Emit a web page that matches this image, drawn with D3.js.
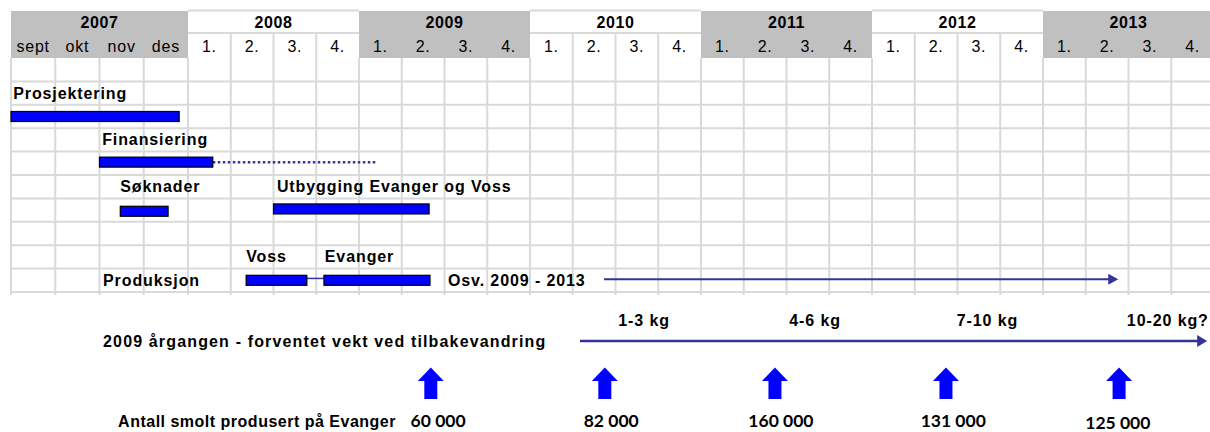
<!DOCTYPE html>
<html>
<head>
<meta charset="utf-8">
<script src="https://cdn.jsdelivr.net/npm/d3@7"></script>
<style>
  body { margin: 0; background: #fff; }
  svg { display: block; }
  text { font-family: "Liberation Sans", Arial, sans-serif; fill: #000; }
</style>
</head>
<body>
<div id="chart"></div>
<script>
// header
var years = ["2007", "2008", "2009", "2010", "2011", "2012", "2013"];
var months = ["sept", "okt", "nov", "des"];
var quarters = ["1.", "2.", "3.", "4."];

// task labels: [text, row, column position]
var taskLabels = [
  ["Prosjektering", 1, 0.05],
  ["Finansiering", 3, 2.06],
  ["Søknader", 5, 2.47],
  ["Utbygging Evanger og Voss", 5, 6.08],
  ["Voss", 8, 5.36],
  ["Evanger", 8, 7.2],
  ["Produksjon", 9, 2.08],
  ["Osv. 2009 - 2013", 9, 10.08]
];

// bars: [name, row centre, start column, end column]
var bars = [
  ["Prosjektering", 2.5, 0, 3.8],
  ["Finansiering", 4.45, 2.0, 4.58],
  ["Søknader", 6.55, 2.47, 3.55],
  ["Utbygging", 6.45, 6.0, 9.64],
  ["Voss", 9.5, 5.36, 6.78],
  ["Evanger", 9.5, 7.18, 9.66]
];
var finansieringDotted = [4.58, 8.42];
var vossEvangerLink = [6.67, 7.39];
var osvArrow = [13.73, 25.76];

// weight of the 2009 year class
var weightArrow = [13.17, 27.84];
var weightLabels = ["1-3 kg", "4-6 kg", "7-10 kg", "10-20 kg?"];
var weightPos = [14.67, 18.67, 22.7, 26.92];

// smolt produced at Evanger
var smoltArrowPos = [9.68, 13.75, 17.73, 21.73, 25.78];
var smoltCounts = ["60 000", "82 000", "160 000", "131 000", "125 000"];
var smoltCountPos = [9.85, 13.9, 17.87, 21.9, 25.75];

var W = 1210, H = 432;
var navy = "#333399", grid = "#d9d9d9", headGray = "#c0c0c0";

var svg = d3.select("#chart").append("svg")
  .attr("width", W)
  .attr("height", H);

// column scale: 4 months then 24 quarters
var x = d3.scaleLinear().domain([0, 4, 28]).range([11, 188, 1214]);
var y = d3.scaleLinear().domain([0, 10]).range([58, 292]);

var headTop = 11, headMid = 33, headBot = 58;

// header blocks
years.forEach(function (yr, i) {
  var s = i === 0 ? 0 : 4 * i, e = 4 * (i + 1);
  var gray = i % 2 === 0;
  svg.append("rect")
    .attr("x", x(s)).attr("y", headTop)
    .attr("width", x(e) - x(s)).attr("height", headBot - headTop)
    .attr("fill", gray ? headGray : "#fff");
  if (!gray) {
    svg.append("line")
      .attr("x1", x(s)).attr("x2", x(e))
      .attr("y1", headTop - 0.5).attr("y2", headTop - 0.5)
      .attr("stroke", grid).attr("stroke-width", 2);
    svg.append("line")
      .attr("x1", x(s)).attr("x2", x(e))
      .attr("y1", headMid).attr("y2", headMid)
      .attr("stroke", grid).attr("stroke-width", 2);
    d3.range(s + 1, e).forEach(function (c) {
      svg.append("line")
        .attr("x1", x(c)).attr("x2", x(c))
        .attr("y1", headMid).attr("y2", headBot)
        .attr("stroke", grid).attr("stroke-width", 2);
    });
  }
  svg.append("text")
    .attr("x", (x(s) + x(e)) / 2)
    .attr("y", 28)
    .attr("text-anchor", "middle")
    .style("font-size", "16px")
    .style("font-weight", "bold")
    .style("letter-spacing", "0.6px")
    .text(yr);
});

var periods = months.concat(d3.merge(d3.range(6).map(function () { return quarters; })));
periods.forEach(function (p, i) {
  svg.append("text")
    .attr("x", (x(i) + x(i + 1)) / 2)
    .attr("y", 52)
    .attr("text-anchor", "middle")
    .style("font-size", "16px")
    .style("letter-spacing", "0.8px")
    .text(p);
});

// grid
d3.range(0, 29).forEach(function (c) {
  svg.append("line")
    .attr("x1", x(c)).attr("x2", x(c))
    .attr("y1", headBot).attr("y2", y(10) + 3)
    .attr("stroke", grid).attr("stroke-width", 2);
});
d3.range(1, 11).forEach(function (r) {
  svg.append("line")
    .attr("x1", x(0)).attr("x2", W)
    .attr("y1", y(r)).attr("y2", y(r))
    .attr("stroke", grid).attr("stroke-width", 2);
});

// task labels
taskLabels.forEach(function (t) {
  svg.append("text")
    .attr("x", x(t[2]))
    .attr("y", (y(t[1]) + y(t[1] + 1)) / 2 + 5.5)
    .style("font-size", "16px")
    .style("font-weight", "bold")
    .style("letter-spacing", "0.9px")
    .text(t[0]);
});

// dotted continuation and link lines
svg.append("line")
  .attr("x1", x(finansieringDotted[0])).attr("x2", x(finansieringDotted[1]))
  .attr("y1", y(4.45)).attr("y2", y(4.45))
  .attr("stroke", navy).attr("stroke-width", 2.5)
  .attr("stroke-dasharray", "2.5,2.5");
svg.append("line")
  .attr("x1", x(vossEvangerLink[0])).attr("x2", x(vossEvangerLink[1]))
  .attr("y1", y(9.42)).attr("y2", y(9.42))
  .attr("stroke", navy).attr("stroke-width", 1.5);

// bars
var barH = 10;
svg.selectAll("rect.bar").data(bars).enter().append("rect")
  .attr("class", "bar")
  .attr("x", function (d) { return x(d[2]); })
  .attr("y", function (d) { return y(d[1]) - barH / 2; })
  .attr("width", function (d) { return x(d[3]) - x(d[2]); })
  .attr("height", barH)
  .attr("fill", "#0000ff")
  .attr("stroke", "#000")
  .attr("stroke-width", 1.2);

function arrow(x1, x2, yy, sw, headLen, headHalf) {
  svg.append("line")
    .attr("x1", x1).attr("x2", x2 - headLen + 1)
    .attr("y1", yy).attr("y2", yy)
    .attr("stroke", navy).attr("stroke-width", sw);
  svg.append("path")
    .attr("d", "M" + (x2 - headLen) + "," + (yy - headHalf) +
      "L" + x2 + "," + yy + "L" + (x2 - headLen) + "," + (yy + headHalf) + "Z")
    .attr("fill", navy);
}

arrow(x(osvArrow[0]), x(osvArrow[1]), y(9.45), 2, 10, 5.5);

// weight arrow
var weightY = 341;
arrow(x(weightArrow[0]), x(weightArrow[1]), weightY, 2.5, 10, 6);
weightLabels.forEach(function (t, i) {
  svg.append("text")
    .attr("x", x(weightPos[i]))
    .attr("y", 326)
    .attr("text-anchor", "middle")
    .style("font-size", "16px")
    .style("font-weight", "bold")
    .style("letter-spacing", "0.9px")
    .text(t);
});
svg.append("text")
  .attr("x", x(2.08))
  .attr("y", 347)
  .style("font-size", "16px")
  .style("font-weight", "bold")
  .style("letter-spacing", "1.15px")
  .text("2009 årgangen - forventet vekt ved tilbakevandring");

// smolt block arrows
var aTop = 367.5, aNeck = 381, aBot = 399, headHalfW = 13, shaftHalfW = 6.5;
smoltArrowPos.forEach(function (p) {
  var cx = x(p);
  svg.append("path")
    .attr("d", "M" + cx + "," + aTop +
      "L" + (cx + headHalfW) + "," + aNeck +
      "L" + (cx + shaftHalfW) + "," + aNeck +
      "L" + (cx + shaftHalfW) + "," + aBot +
      "L" + (cx - shaftHalfW) + "," + aBot +
      "L" + (cx - shaftHalfW) + "," + aNeck +
      "L" + (cx - headHalfW) + "," + aNeck + "Z")
    .attr("fill", "#0000ff");
});

svg.append("text")
  .attr("x", x(2.42))
  .attr("y", 427)
  .style("font-size", "16px")
  .style("font-weight", "bold")
  .style("letter-spacing", "0.5px")
  .text("Antall smolt produsert på Evanger");

smoltCounts.forEach(function (t, i) {
  svg.append("text")
    .attr("x", x(smoltCountPos[i]))
    .attr("y", i === 4 ? 428.5 : 427)
    .attr("text-anchor", "middle")
    .style("font-family", "Lato, 'Liberation Sans', sans-serif")
    .style("font-size", "17.5px")
    .style("font-weight", "bold")
    .text(t);
});
</script>
</body>
</html>
